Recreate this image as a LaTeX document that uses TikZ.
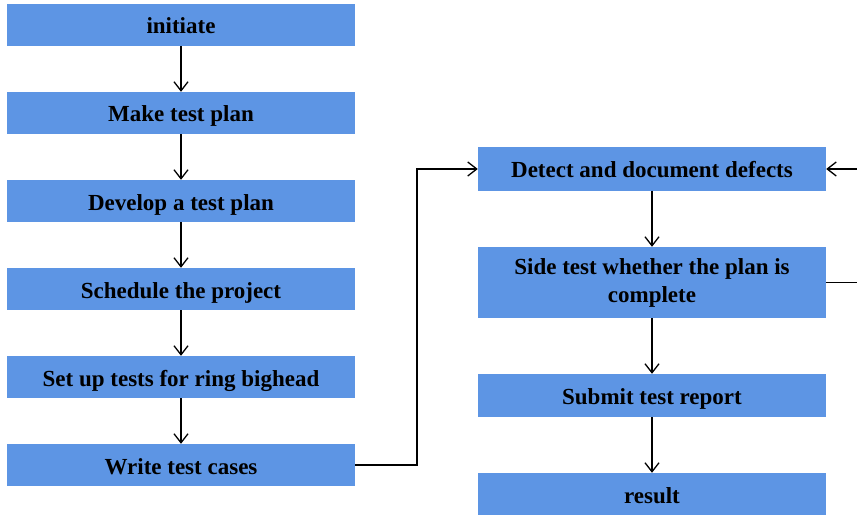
\documentclass[tikz,border=0pt]{standalone}
\usepackage{fontspec}
\setmainfont{Liberation Serif}
\usetikzlibrary{arrows.meta}
\definecolor{boxblue}{RGB}{93,149,228}
\tikzset{
  stepbox/.style={fill=boxblue, draw=none, minimum width=348pt, minimum height=42pt,
    inner sep=0pt, font=\fontsize{23}{28}\selectfont\bfseries, align=center, text=black},
  oneline/.style={text height=18pt, text depth=0pt},
  conn/.style={draw=black, line width=1.3pt, -{Straight Barb[length=9pt,width=14pt,line width=1.3pt]}}
}
\begin{document}
\begin{tikzpicture}[x=1pt,y=-1pt]
\useasboundingbox (0,0) rectangle (857,516);
\node[stepbox, oneline] (a) at (181,25) {initiate};
\node[stepbox, oneline] (b) at (181,113) {Make test plan};
\node[stepbox, oneline] (c) at (181,201) {Develop a test plan};
\node[stepbox, oneline] (d) at (181,289) {Schedule the project};
\node[stepbox, oneline] (e) at (181,377) {Set up tests for ring bighead};
\node[stepbox, oneline] (f) at (181,465) {Write test cases};
\node[stepbox, oneline, minimum height=43pt] (g) at (652,169) {Detect and document defects};
\node[stepbox, minimum height=71pt] (h) at (652,282.5) {\rule{0pt}{17pt}Side test whether the plan is\\complete};
\node[stepbox, oneline, minimum height=43pt] (i) at (652,395.5) {Submit test report};
\node[stepbox, oneline] (j) at (652,494) {result};
\draw[conn] (a) -- (b);
\draw[conn] (b) -- (c);
\draw[conn] (c) -- (d);
\draw[conn] (d) -- (e);
\draw[conn] (e) -- (f);
\coordinate (m1) at (417,465);
\coordinate (m2) at (417,169);
\draw[conn] (f.east) -- (m1) -- (m2) -- (g.west);
\draw[conn] (g) -- (h);
\draw[conn] (h) -- (i);
\draw[conn] (i) -- (j);
\coordinate (r1) at (870,282.5);
\coordinate (r2) at (870,169);
\draw[conn] (h.east) -- (r1) -- (r2) -- (g.east);
\end{tikzpicture}
\end{document}
